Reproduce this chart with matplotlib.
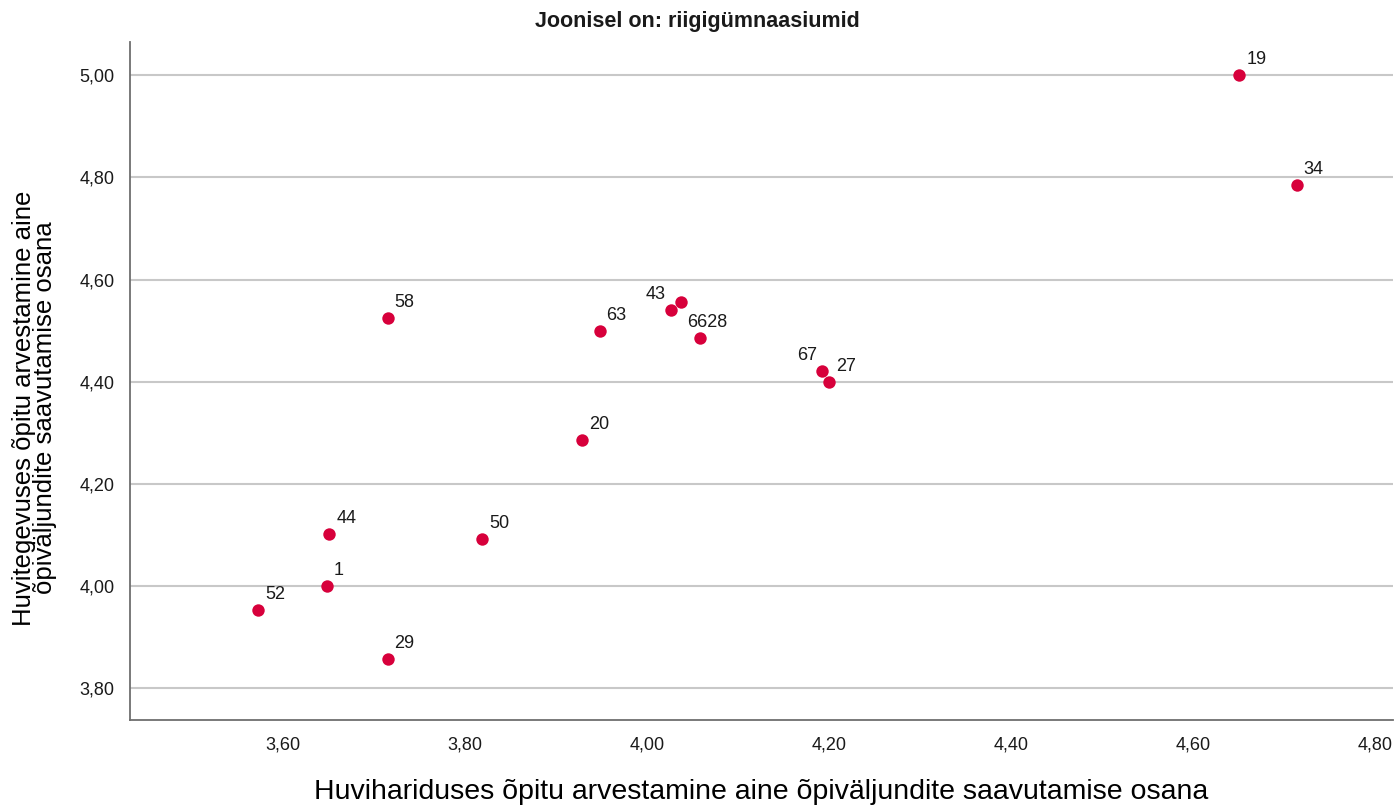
import matplotlib.pyplot as plt

plt.rcParams['font.family'] = ['Liberation Sans', 'DejaVu Sans']

# values
x_vals = [4.651, 4.714, 3.715, 3.948, 4.027, 4.038, 4.058, 4.193, 4.200,
          3.929, 3.651, 3.819, 3.648, 3.573, 3.715]
y_vals = [5.000, 4.785, 4.524, 4.499, 4.540, 4.556, 4.485, 4.421, 4.399,
          4.286, 4.102, 4.092, 4.000, 3.953, 3.857]
point_labels = ['19', '34', '58', '63', '43', '', '6628', '67', '27',
                '20', '44', '50', '1', '52', '29']
# where each label sits relative to its point: r = upper right, l = upper left, c = squeezed
label_side = ['r', 'r', 'r', 'r', 'l', 'r', 'c', 'l', 'r',
              'r', 'r', 'r', 'r', 'r', 'r']

x_ticks = [3.60, 3.80, 4.00, 4.20, 4.40, 4.60, 4.80]
y_ticks = [3.80, 4.00, 4.20, 4.40, 4.60, 4.80, 5.00]

txt = '#1a1a1a'

fig = plt.figure(figsize=(13.95, 8.05), dpi=100)
ax = fig.add_axes([0.0932, 0.1056, 0.9054, 0.8422])

ax.scatter(x_vals, y_vals, s=80, color='#d7003b', zorder=3, linewidths=0)

for x, y, lab, side in zip(x_vals, y_vals, point_labels, label_side):
    if not lab:
        continue
    if side == 'r':
        off, ha = (5, 5), 'left'
    elif side == 'l':
        off, ha = (-4, 5), 'right'
    else:
        off, ha = (-9, 5), 'left'
    ax.annotate(lab, (x, y), xytext=off, textcoords='offset points',
                ha=ha, va='bottom', fontsize=13, color=txt)

ax.set_xlim(3.432, 4.820)
ax.set_ylim(3.738, 5.065)
ax.set_xticks(x_ticks)
ax.set_yticks(y_ticks)
ax.set_xticklabels([f'{v:.2f}'.replace('.', ',') for v in x_ticks])
ax.set_yticklabels([f'{v:.2f}'.replace('.', ',') for v in y_ticks])
ax.tick_params(length=0, labelsize=13, colors=txt)
ax.tick_params(axis='y', pad=11)
ax.tick_params(axis='x', pad=12)

ax.yaxis.grid(True, color='#c8c8c8', linewidth=1.5)
ax.set_axisbelow(True)
for side in ['top', 'right']:
    ax.spines[side].set_visible(False)
for side in ['left', 'bottom']:
    ax.spines[side].set_color('#6e6e6e')
    ax.spines[side].set_linewidth(1.3)

fig.text(0.5, 0.973, 'Joonisel on: riigigümnaasiumid', fontsize=15.5,
         fontweight='bold', ha='center', va='center', color=txt)
ax.set_xlabel('Huvihariduses õpitu arvestamine aine õpiväljundite saavutamise osana',
              fontsize=20.5, labelpad=18, color='black')
ax.set_ylabel('Huvitegevuses õpitu arvestamine aine\nõpiväljundite saavutamise osana',
              fontsize=18.5, linespacing=0.85, color='black')
ax.yaxis.set_label_coords(-0.058, 0.46)

fig.savefig('out.png', dpi=100)
